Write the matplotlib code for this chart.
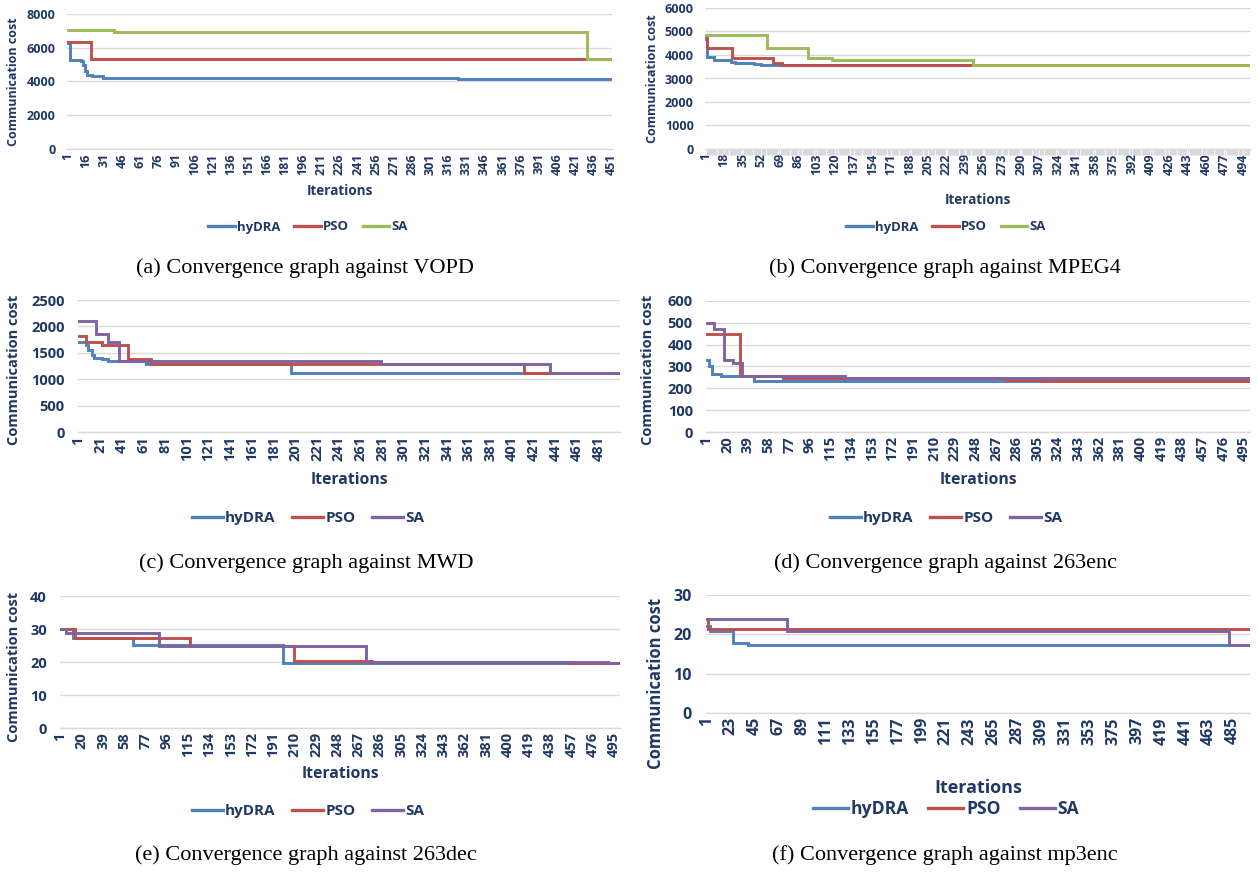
import numpy as np
import matplotlib.pyplot as plt
from matplotlib.lines import Line2D

W, H = 1258, 872
NAVY = "#1F3864"
C_HYDRA = "#4F81BD"
C_PSO = "#C0504D"
C_SA_GREEN = "#9BBB59"
C_SA_PURPLE = "#8064A2"
GRID = "#D9D9D9"

plt.rcParams["font.family"] = ["Open Sans", "DejaVu Sans"]

labels = ["hyDRA", "PSO", "SA"]

# --- (a) VOPD ---
n_a = 451
hydra_a_x = [1, 3, 8, 12, 14, 15, 17, 21, 26, 30, 60, 324, 451]
hydra_a_y = [6300, 5300, 5250, 5200, 5000, 4600, 4400, 4350, 4300, 4200, 4180, 4130, 4130]
pso_a_x = [1, 20, 451]
pso_a_y = [6330, 5320, 5320]
sa_a_x = [1, 39, 431, 451]
sa_a_y = [7050, 6960, 5320, 5320]

# --- (b) MPEG4 ---
n_b = 500
hydra_b_x = [1, 2, 9, 24, 28, 45, 52, 500]
hydra_b_y = [4700, 3900, 3770, 3720, 3650, 3600, 3570, 3570]
pso_b_x = [1, 2, 25, 63, 71, 500]
pso_b_y = [4800, 4300, 3880, 3650, 3570, 3570]
sa_b_x = [1, 57, 95, 117, 246, 500]
sa_b_y = [4850, 4300, 3880, 3780, 3570, 3570]

# --- (c) MWD ---
n_c = 500
hydra_c_x = [1, 8, 10, 13, 15, 23, 28, 63, 197, 500]
hydra_c_y = [1700, 1650, 1550, 1450, 1400, 1380, 1340, 1280, 1115, 1115]
pso_c_x = [1, 8, 23, 47, 68, 412, 500]
pso_c_y = [1820, 1700, 1640, 1380, 1280, 1115, 1115]
sa_c_x = [1, 17, 28, 38, 280, 436, 500]
sa_c_y = [2110, 1860, 1700, 1340, 1280, 1115, 1115]

# --- (d) 263enc ---
n_d = 500
hydra_d_x = [1, 3, 6, 14, 24, 45, 500]
hydra_d_y = [330, 300, 265, 258, 255, 232, 232]
pso_d_x = [1, 32, 71, 275, 310, 500]
pso_d_y = [447, 255, 248, 240, 232, 232]
sa_d_x = [1, 8, 17, 25, 34, 128, 500]
sa_d_y = [500, 470, 330, 315, 255, 248, 248]

# --- (e) 263dec ---
n_e = 500
hydra_e_x = [1, 12, 66, 200, 500]
hydra_e_y = [30, 27.4, 25.1, 19.8, 19.8]
pso_e_x = [1, 14, 117, 209, 279, 455, 500]
pso_e_y = [30, 27.3, 25, 20.3, 20.0, 19.8, 19.8]
sa_e_x = [1, 6, 89, 274, 490, 500]
sa_e_y = [30, 28.8, 25, 20.0, 19.8, 19.8]

# --- (f) mp3enc ---
n_f = 500
hydra_f_x = [1, 4, 25, 39, 500]
hydra_f_y = [22, 20.8, 17.7, 17.2, 17.2]
pso_f_x = [1, 2, 500]
pso_f_y = [24, 21.3, 21.3]
sa_f_x = [1, 75, 481, 500]
sa_f_y = [23.9, 20.8, 17.2, 17.2]

fig = plt.figure(figsize=(W / 100, H / 100), dpi=100)
fig.patch.set_facecolor("white")


def panel(box, n, step, series, colors, ymax, ystep, fs, ylab_x, xlab_y,
          leg_x, leg_y, caption, cap_x, cap_y, dense_ticks=False, lfs=None,
          ylab_y=None):
    l, t, r, b = box
    lfs = lfs or fs
    ylab_y = ylab_y or (t + b) / 2
    ax = fig.add_axes([l / W, 1 - b / H, (r - l) / W, (b - t) / H])
    for (xs, ys), c in zip(series, colors):
        ax.plot(xs, ys, drawstyle="steps-post", color=c, lw=2.1,
                solid_joinstyle="miter")
    ax.set_xlim(0.5, n + 0.5)
    ax.set_ylim(0, ymax)
    ax.set_yticks(np.arange(0, ymax + ystep / 2, ystep))
    ax.set_xticks(np.arange(1, n + 1, step))
    ax.tick_params(axis="x", length=0, pad=3, labelrotation=90,
                   labelsize=fs, labelcolor=NAVY)
    ax.tick_params(axis="y", length=0, pad=fs * 0.9,
                   labelsize=fs, labelcolor=NAVY)
    for lab in ax.get_xticklabels() + ax.get_yticklabels():
        lab.set_fontweight("bold")
    if dense_ticks:
        ax.set_xticks(np.arange(1, n + 1), minor=True)
        ax.tick_params(axis="x", which="minor", length=4, width=0.8,
                       color=GRID, direction="out")
    ax.grid(axis="y", color=GRID, lw=1.0)
    ax.set_axisbelow(True)
    for s in ["top", "left", "right"]:
        ax.spines[s].set_visible(False)
    ax.spines["bottom"].set_color(GRID)
    ax.spines["bottom"].set_linewidth(1.0)

    fig.text(ylab_x / W, 1 - ylab_y / H, "Communication cost",
             rotation=90, ha="center", va="center", color=NAVY,
             fontsize=lfs, fontweight="bold")
    fig.text((l + r) / 2 / W, 1 - xlab_y / H, "Iterations", ha="center",
             va="center", color=NAVY, fontsize=lfs * 1.08, fontweight="bold")
    handles = [Line2D([], [], color=c, lw=2.4) for c in colors]
    leg = fig.legend(handles, labels, loc="center",
                     bbox_to_anchor=(leg_x / W, 1 - leg_y / H), ncol=3,
                     frameon=False, handlelength=2.0, handletextpad=0.15,
                     columnspacing=1.1,
                     prop={"size": lfs * 1.05, "weight": "bold"})
    for txt in leg.get_texts():
        txt.set_color(NAVY)
    fig.text(cap_x / W, 1 - cap_y / H, caption, ha="center", va="center",
             fontsize=16, family=["Liberation Serif", "DejaVu Serif"])
    return ax


panel((67, 14, 612, 149), n_a, 15,
      [(hydra_a_x, hydra_a_y), (pso_a_x, pso_a_y), (sa_a_x, sa_a_y)],
      [C_HYDRA, C_PSO, C_SA_GREEN], 8000, 2000, 9,
      14, 191, 308, 227, "(a) Convergence graph against VOPD", 305, 268,
      lfs=9)

panel((705, 8, 1250, 149), n_b, 17,
      [(hydra_b_x, hydra_b_y), (pso_b_x, pso_b_y), (sa_b_x, sa_b_y)],
      [C_HYDRA, C_PSO, C_SA_GREEN], 6000, 1000, 9,
      653, 200, 946, 227, "(b) Convergence graph against MPEG4", 945, 268,
      dense_ticks=True, lfs=9)

panel((78, 300, 620, 432), n_c, 20,
      [(hydra_c_x, hydra_c_y), (pso_c_x, pso_c_y), (sa_c_x, sa_c_y)],
      [C_HYDRA, C_PSO, C_SA_PURPLE], 2500, 500, 10.5,
      14, 480, 308, 518, "(c) Convergence graph against MWD", 306, 563,
      lfs=10.5, ylab_y=370)

panel((706, 301, 1250, 432), n_d, 19,
      [(hydra_d_x, hydra_d_y), (pso_d_x, pso_d_y), (sa_d_x, sa_d_y)],
      [C_HYDRA, C_PSO, C_SA_PURPLE], 600, 100, 10.5,
      648, 480, 946, 518, "(d) Convergence graph against 263enc", 945, 563,
      lfs=10.5, ylab_y=370)

panel((60, 596, 620, 728), n_e, 19,
      [(hydra_e_x, hydra_e_y), (pso_e_x, pso_e_y), (sa_e_x, sa_e_y)],
      [C_HYDRA, C_PSO, C_SA_PURPLE], 40, 10, 10.5,
      14, 774, 308, 811, "(e) Convergence graph against 263dec", 306, 855,
      lfs=10.5, ylab_y=667)

panel((706, 595, 1250, 713), n_f, 22,
      [(hydra_f_x, hydra_f_y), (pso_f_x, pso_f_y), (sa_f_x, sa_f_y)],
      [C_HYDRA, C_PSO, C_SA_PURPLE], 30, 10, 11.5,
      656, 788, 946, 809, "(f) Convergence graph against mp3enc", 945, 855,
      lfs=12, ylab_y=683)

fig.savefig("out.png", dpi=100)
